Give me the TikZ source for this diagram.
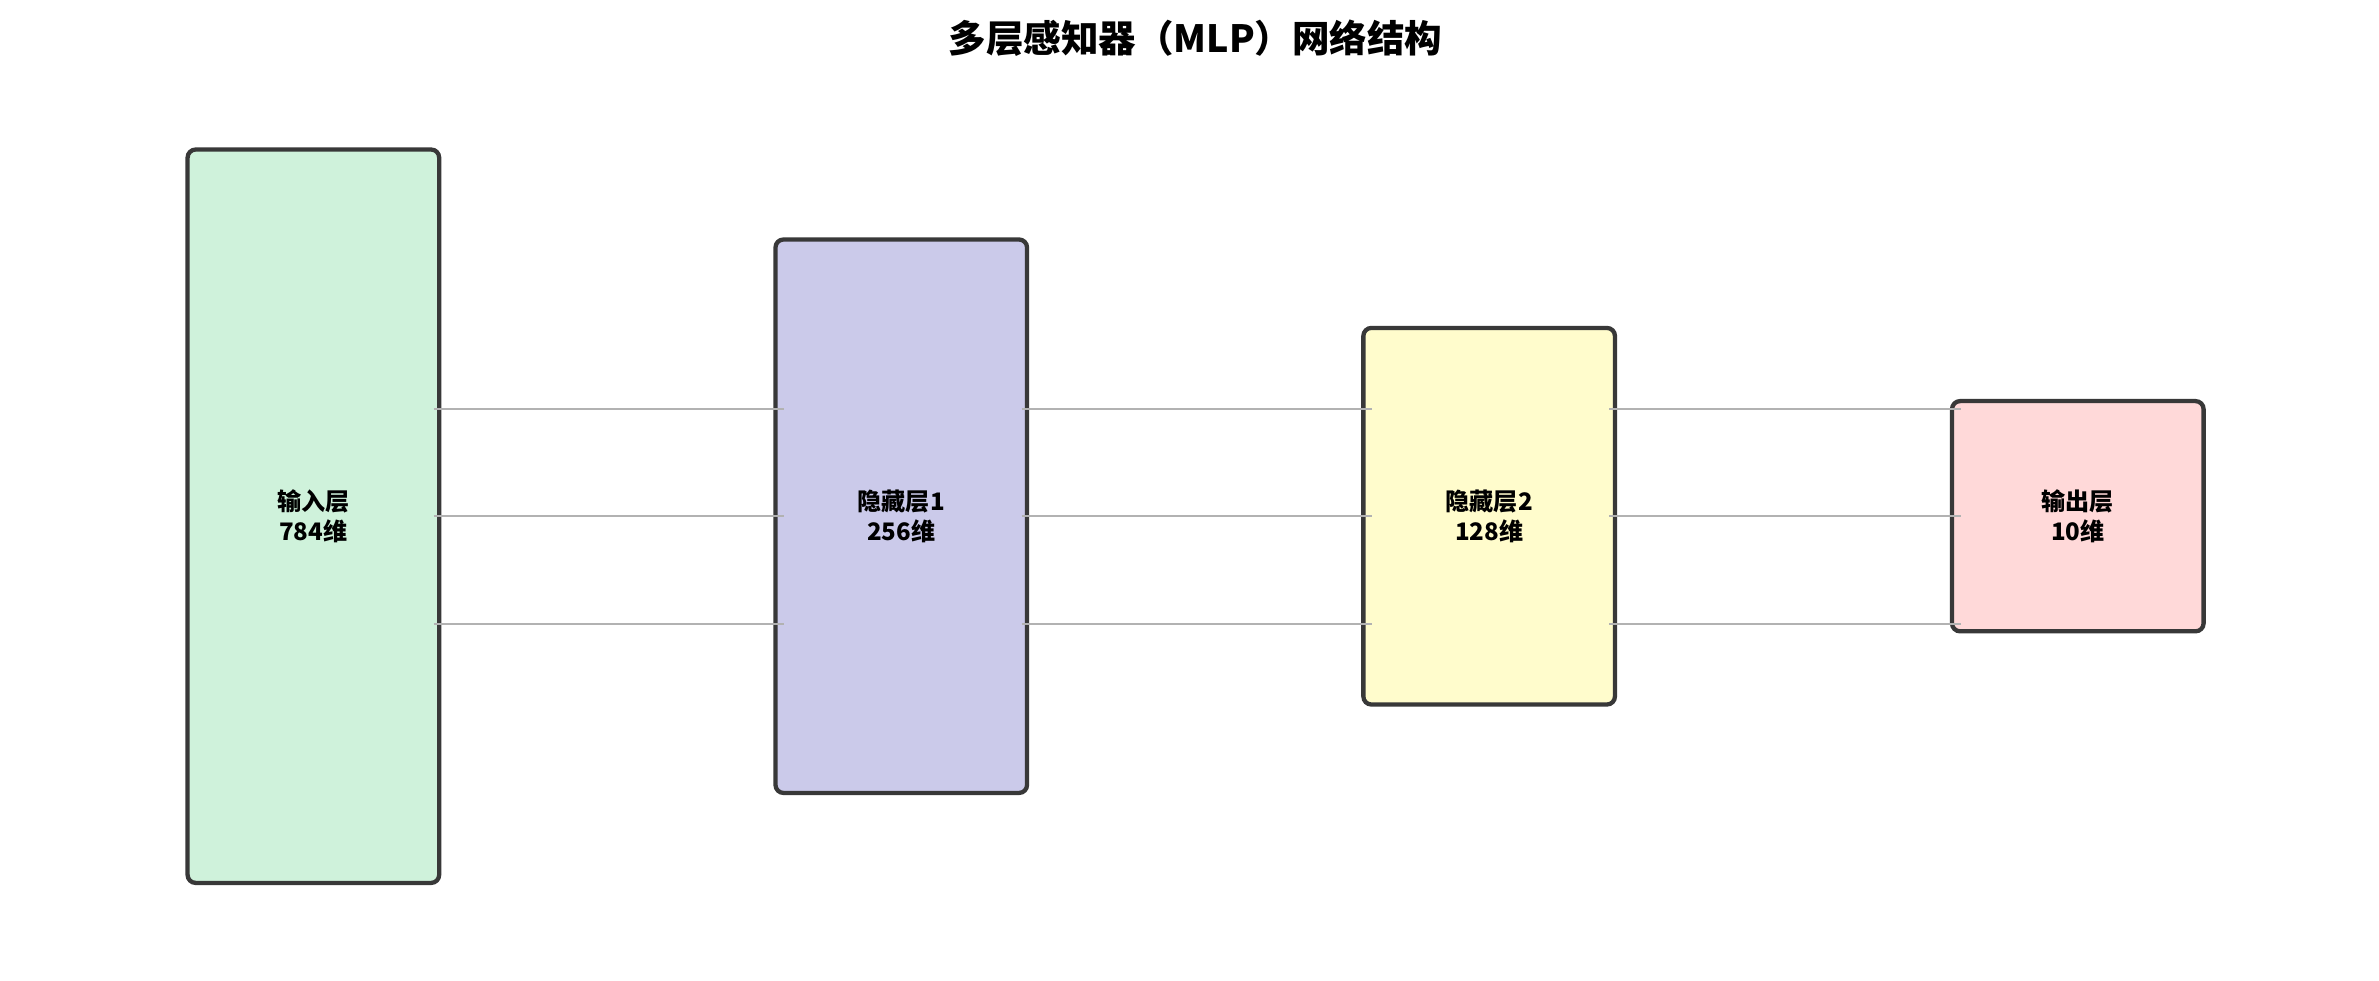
\documentclass[tikz,border=0pt]{standalone}
\usepackage{fontspec}
\setmainfont{Noto Sans CJK SC}
\usetikzlibrary{positioning}
\begin{document}
\begin{tikzpicture}[x=0.02cm,y=-0.02cm,
    layer/.style={draw=black!78,line width=1.6pt,rounded corners=3pt,
                  minimum width=3.3cm,font=\bfseries\fontsize{9}{11}\selectfont,align=center,inner sep=0pt},
    link/.style={draw=black!30,line width=0.6pt}]
  \useasboundingbox (0,0) rectangle (1560,643);

  \node[font=\bfseries\fontsize{14}{16}\selectfont] (title) at (784,25) {多层感知器（MLP）网络结构};

  % layers
  \node[layer,fill=green!10!white!90!teal,minimum height=9.62cm] (in)  at (205.5,338.5) {输入层\\784维};
  \node[layer,fill=cyan!20!blue!20,minimum height=7.26cm] (h1) at (591,338.5) {隐藏层1\\256维};
  \node[layer,fill=yellow!20,minimum height=4.94cm] (h2) at (976.5,338.5) {隐藏层2\\128维};
  \node[layer,fill=red!15!white,minimum height=3.02cm] (out) at (1362.5,338.5) {输出层\\10维};

  % connections
  \foreach \a/\b in {in/h1,h1/h2,h2/out}
    \foreach \dy in {-70.5,0,70.5}
      \draw[link] ([xshift=-0.1cm,yshift=\dy*0.02cm]\a.east) -- ([xshift=0.14cm,yshift=\dy*0.02cm]\b.west);
\end{tikzpicture}
\end{document}
